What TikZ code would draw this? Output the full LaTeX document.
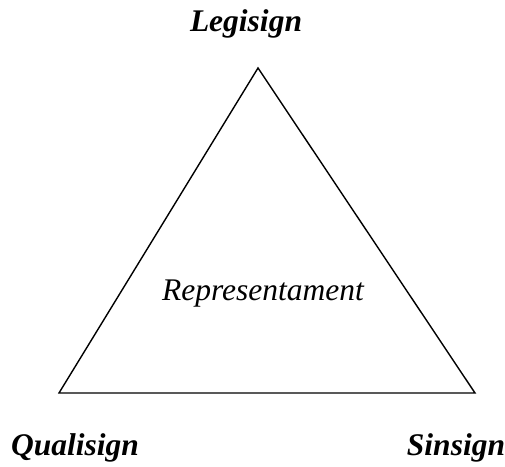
\documentclass[tikz,border=0pt]{standalone}
\usepackage{fontspec}
\setmainfont{Liberation Serif}
\usetikzlibrary{positioning}

\begin{document}
\begin{tikzpicture}[x=1pt,y=1pt]
	\useasboundingbox (0,0) rectangle (505,466);
	\begin{scope}[
		corner/.style={anchor=base,inner sep=0pt,font=\fontsize{31.5}{37}\selectfont\bfseries\itshape},
		centre/.style={anchor=base,inner sep=0pt,font=\fontsize{31.5}{37}\selectfont\itshape},
		side/.style={line width=1.4pt,line join=miter}]
		\coordinate		(top)		at (258,398);
		\coordinate		(left)		at (59,73);
		\coordinate		(right)		at (475,73);
		\node [corner]		(legi)		at (246,434)	{Legisign};
		\node [corner]		(quali)		at (75,11)	{Qualisign};
		\node [corner]		(sin)		at (456,11)	{Sinsign};
		\node [centre]		(repr)		at (263,166)	{Representament};
		\draw [side] (top) -- (left) -- (right) -- cycle;
	\end{scope}
\end{tikzpicture}
\end{document}
